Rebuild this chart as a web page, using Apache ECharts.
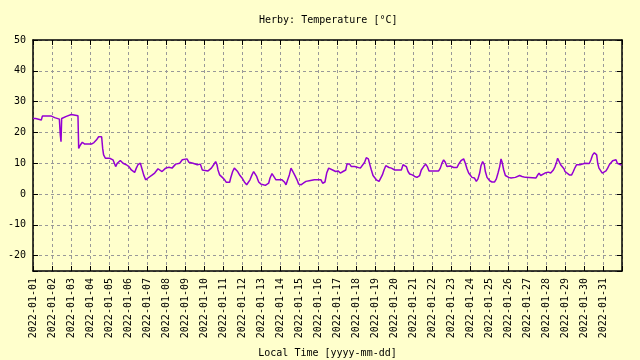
<!DOCTYPE html>
<html><head><meta charset="utf-8">
<script src="https://cdn.jsdelivr.net/npm/echarts@6/dist/echarts.min.js"></script>
<style>html,body{margin:0;padding:0;background:#ffffcc}#c{width:640px;height:360px}</style>
</head><body><div id="c"></div>
<script>
// Hours since 2022-01-01 00:00 local time
const hours = [0,3.4,3.8,10.5,11.8,23.2,23.6,27.4,27.8,33.3,34.5,35.4,36.2,37,42.1,44.2,48.4,49.7,56.8,57.7,59.8,62.3,65.3,73.7,77,80,82.9,85,86.7,88,89.2,91.4,96.8,98.9,101,104.4,106.5,110.3,113.7,117.9,121.2,124.2,128.4,130.5,132.6,135.6,136.8,138.1,139.8,142.3,145.3,147.4,150.7,153.7,157.9,160,163,165.5,167.6,169.7,171.8,173.5,175.6,176.8,180.2,185.3,188.6,190.7,194.5,197,199.2,202.1,204.2,207.6,209.7,211.4,213.9,215.6,221.1,225.3,228.2,230.7,232.4,233.7,235.8,239.1,242.1,244.2,248.4,249.7,252.2,254.3,256.4,258.5,261.5,264,267,269.9,272,274.1,276.6,278.7,280.8,282.5,285.1,288,290.9,293.5,295.6,297.7,299.4,301.9,304,306.9,309,311.2,314.5,317.5,319.6,321.7,323.8,325.9,327.2,329.3,331.4,333.5,335.6,338.5,341.5,344.8,349,355.4,359.6,361.7,363.8,365.9,368.8,371,373.5,375.2,378.5,382.3,385.3,388.2,391.6,395,396.6,400,402.1,406.3,408.4,413.5,416,418.9,421,423.6,425.3,427.4,429.5,431.6,433.7,437.1,439.2,441.3,443.4,445.6,447.2,449.7,452.7,456.9,465.3,467.4,469.5,471.6,473.7,475.8,479.1,482.1,485,488.4,490.5,493.4,496,498.1,500.2,512.4,514.5,516.6,518.7,520.8,522.9,527.2,531.4,535.6,537.7,540.6,544,546.1,548.2,550.3,552.4,554.5,557.5,560,562.1,564.2,565.9,568,570.1,571.4,573.5,576.9,579.8,583.1,585.3,587.4,589.5,591.2,592.4,594.6,596.7,600.9,603.8,606.3,609.3,611.4,614.7,617.7,621.9,624,635.4,637.1,639.2,641.3,643.8,646.7,648.8,650.9,653.9,656,657.3,659.4,661.5,662.7,664.8,666.5,668.6,670.7,672,674.1,677.5,680.4,682.5,684.7,686.7,688.8,690.9,693.1,697.3,702.7,704.8,706.9,709.1,710.7,712,713.3,714.9,717,719.1,721.3,723.8,725.9,728,730.1,732.2,733.9,736.4,738.1,740.6,742.3,743.5];
const temps = [24.5,24.5,24.0,24.0,25.3,25.3,24.8,24.8,24.3,24.3,19.1,17.0,24.5,24.8,25.2,25.8,25.8,25.4,25.4,14.8,15.9,16.8,16.2,16.2,16.7,17.5,18.6,19.1,18.6,14.8,12.7,11.6,11.6,12.2,11.1,8.9,10,10.9,10,9.5,8.9,7.8,7.0,8.4,9.5,10,9.7,7.8,6.2,4.6,5.2,5.7,6.2,6.8,8.2,7.8,7.3,7.8,8.4,7.8,8.7,8.9,8.4,8.9,9.7,10,11.1,11.4,11.4,10.3,9.7,10,9.5,9.5,8.9,9.7,7.8,7.5,7.5,8.4,9.5,10.5,9.5,7.8,6.2,5.4,4.6,3.8,3.8,5.2,7.3,8.4,8.1,7.3,6.0,5.2,3.9,3.0,3.2,4.6,6.2,7.3,6.8,5.7,3.9,3.2,3.0,2.8,2.5,3.5,5.2,6.6,6.0,4.6,4.1,4.6,4.6,3.9,3.0,4.6,6.2,8.4,8.6,6.8,5.7,4.6,3.2,3.0,3.5,4.1,4.3,4.6,4.6,4.3,4.6,3.5,3.9,6.8,8.4,8.9,7.8,7.3,7.5,6.8,7.3,7.8,9.7,9.7,8.9,8.9,8.6,8.4,8.9,10.3,11.8,11.4,9.7,7.8,6.0,6.0,4.6,4.1,4.6,6.2,7.8,9.2,9.7,8.6,8.4,7.8,7.8,9.5,10,8.9,7.3,6.5,6.2,5.7,5.4,6.0,7.8,8.9,9.7,8.9,7.5,7.5,8.4,10,11.1,10.3,8.9,9.1,8.6,8.6,9.7,10.8,11.4,10,8.2,6.8,6.2,5.4,5.2,4.1,4.9,6.8,9.2,10.5,9.5,7.3,5.4,4.3,3.9,3.9,4.9,6.8,8.9,11.4,10.5,7.8,6.0,5.4,5.2,4.6,5.4,5.7,6.0,5.7,5.4,5.2,5.2,6.0,6.8,6.0,5.7,6.8,7.3,7.1,6.8,7.3,7.8,8.9,10.5,11.6,11.6,9.5,8.9,8.2,7.3,6.8,6.2,6.2,7.3,8.6,9.5,9.2,9.5,9.9,10,9.9,11.1,12.7,13.4,13.8,12.7,10,8.4,7.8,6.8,7.3,7.5,8.4,9.5,10,10.8,11.1,11.1,10,9.7,9.5,9.4];
const xStartLabel = '2022-01-';
const xMaxHours = 744;
const yMin = -25, yMax = 50;

const font = 'DejaVu Sans Mono';
const chart = echarts.init(document.getElementById('c'));
const tickFmt = v => {
  if (v >= xMaxHours) return '';
  const d = 1 + Math.round(v / 24);
  return xStartLabel + String(d).padStart(2, '0');
};
const gridLine = {show: true, lineStyle: {color: '#999999', type: [3, 3], width: 1}};
const commonX = {
  type: 'value', min: 0, max: xMaxHours, interval: 24,
  axisLine: {show: true, onZero: false, lineStyle: {color: '#000', width: 1.5}},
  axisTick: {show: true, inside: true, length: 5, lineStyle: {color: '#000'}},
  splitLine: {show: false}
};
const commonY = {
  type: 'value', min: yMin, max: yMax, splitNumber: 7,
  axisLine: {show: true, onZero: false, lineStyle: {color: '#000', width: 1.5}},
  axisTick: {show: true, inside: true, length: 5, lineStyle: {color: '#000'}},
  splitLine: {show: false}
};
chart.setOption({
  animation: false,
  backgroundColor: '#ffffcc',
  title: {
    text: 'Herby: Temperature [°C]', left: 254, top: 10,
    textStyle: {fontFamily: font, fontSize: 10, fontWeight: 'normal', color: '#000'}
  },
  grid: {left: 33, right: 18, top: 40, bottom: 89, outerBoundsMode: 'none', containLabel: false},
  xAxis: [
    Object.assign({}, commonX, {
      position: 'bottom',
      name: 'Local Time [yyyy-mm-dd]', nameLocation: 'middle', nameGap: 77,
      nameTextStyle: {fontFamily: font, fontSize: 10, color: '#000'},
      axisLabel: {rotate: 90, margin: 7, fontFamily: font, fontSize: 10, color: '#000', formatter: tickFmt},
      splitLine: gridLine
    }),
    Object.assign({}, commonX, {position: 'top', axisLabel: {show: false}})
  ],
  yAxis: [
    Object.assign({}, commonY, {
      position: 'left',
      axisLabel: {margin: 7, fontFamily: font, fontSize: 10, color: '#000',
        formatter: v => (v % 10 === 0 ? String(v) : '')},
      splitLine: gridLine
    }),
    Object.assign({}, commonY, {position: 'right', axisLabel: {show: false}})
  ],
  series: [{
    type: 'line', xAxisIndex: 0, yAxisIndex: 0,
    data: hours.map((h, i) => [h, temps[i]]),
    showSymbol: false, symbol: 'none',
    lineStyle: {color: '#9400d3', width: 1.5},
    itemStyle: {color: '#9400d3'}
  }]
});
</script></body></html>
